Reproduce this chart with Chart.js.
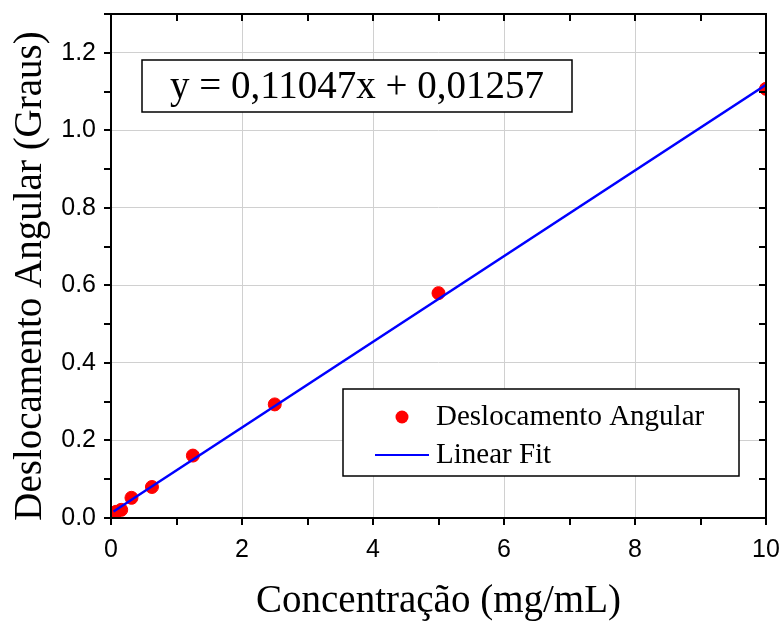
<!DOCTYPE html>
<html>
<head>
<meta charset="utf-8">
<script src="https://cdn.jsdelivr.net/npm/chart.js@4/dist/chart.umd.min.js"></script>
<style>
html, body { margin: 0; padding: 0; background: #fff; }
</style>
</head>
<body>
<canvas id="grafico" width="784" height="622"></canvas>
<script>
// dados
const concentracao = [0.039, 0.078, 0.156, 0.3125, 0.625, 1.25, 2.5, 5, 10];
const deslocamento = [0.012, 0.016, 0.021, 0.052, 0.080, 0.161, 0.293, 0.580, 1.107];
const ajusteX = [0.039, 10];
const ajusteY = [0.0169, 1.1173];
const equacao = 'y = 0,11047x + 0,01257';
const tituloY = 'Deslocamento Angular (Graus)';
const xTickLabels = [0, 2, 4, 6, 8, 10];
const yTickLabels = [0.0, 0.2, 0.4, 0.6, 0.8, 1.0, 1.2];

const serif = '"Liberation Serif", "Times New Roman", serif';
const sans = '"Liberation Sans", Arial, sans-serif';

const isMajorX = v => xTickLabels.some(t => Math.abs(t - v) < 1e-6);
const isMajorY = v => yTickLabels.some(t => Math.abs(t - v) < 1e-6);

// moldura, ticks, titulo y, caixa da equacao e legenda
const extras = {
    id: 'extras',
    afterDatasetsDraw(chart) {
        const ctx = chart.ctx;
        const a = chart.chartArea;
        const sx = chart.scales.x, sy = chart.scales.y;
        ctx.save();
        ctx.strokeStyle = '#000';
        ctx.lineWidth = 2;
        ctx.beginPath();
        for (let v = 0; v <= 10; v++) {
            const px = Math.round(sx.getPixelForValue(v));
            ctx.moveTo(px, a.bottom); ctx.lineTo(px, a.bottom + 7);
            ctx.moveTo(px, a.top); ctx.lineTo(px, a.top + 7);
        }
        for (let i = 0; i <= 13; i++) {
            const py = Math.round(sy.getPixelForValue(i / 10));
            ctx.moveTo(a.left - 7, py); ctx.lineTo(a.left, py);
            ctx.moveTo(a.right - 7, py); ctx.lineTo(a.right, py);
        }
        ctx.stroke();
        ctx.strokeRect(a.left, a.top, a.right - a.left, a.bottom - a.top);

        // titulo do eixo y
        ctx.save();
        ctx.translate(31, 276);
        ctx.rotate(-Math.PI / 2);
        ctx.fillStyle = '#000';
        ctx.font = '39px ' + serif;
        ctx.textAlign = 'center';
        ctx.textBaseline = 'middle';
        ctx.fillText(tituloY, 0, 0);
        ctx.restore();

        // caixa da equacao
        ctx.fillStyle = '#fff';
        ctx.lineWidth = 1.5;
        ctx.fillRect(142, 60, 430, 52);
        ctx.strokeRect(142, 60, 430, 52);
        ctx.fillStyle = '#000';
        ctx.font = '39px ' + serif;
        ctx.textAlign = 'center';
        ctx.textBaseline = 'middle';
        ctx.fillText(equacao, 357, 88);

        // legenda
        ctx.fillStyle = '#fff';
        ctx.fillRect(343, 389, 396, 87);
        ctx.strokeRect(343, 389, 396, 87);
        ctx.font = '29px ' + serif;
        ctx.textAlign = 'left';
        const ds = chart.data.datasets;
        ctx.fillStyle = 'rgb(255,0,0)';
        ctx.beginPath();
        ctx.arc(402, 417, 6.5, 0, Math.PI * 2);
        ctx.fill();
        ctx.fillStyle = '#000';
        ctx.fillText(ds[0].label, 436, 417);
        ctx.strokeStyle = 'rgb(0,0,255)';
        ctx.lineWidth = 2;
        ctx.beginPath();
        ctx.moveTo(375, 455); ctx.lineTo(429, 455);
        ctx.stroke();
        ctx.fillText(ds[1].label, 436, 455);
        ctx.restore();
    }
};

const semPadding = s => { s.paddingTop = 0; s.paddingBottom = 0; s.paddingLeft = 0; s.paddingRight = 0; };

let graficoCtx = document.getElementById('grafico').getContext('2d');
let parametros = {
    type: 'scatter',
    data: {
        datasets: [
            {
                label: 'Deslocamento Angular',
                data: concentracao.map((x, i) => ({ x: x, y: deslocamento[i] })),
                backgroundColor: 'rgb(255,0,0)',
                borderColor: 'rgb(255,0,0)',
                pointRadius: 6.5,
                clip: 0,
                order: 2
            },
            {
                label: 'Linear Fit',
                type: 'line',
                data: ajusteX.map((x, i) => ({ x: x, y: ajusteY[i] })),
                borderColor: 'rgb(0,0,255)',
                borderWidth: 2.5,
                pointRadius: 0,
                fill: false,
                clip: 0,
                order: 1
            }
        ]
    },
    options: {
        responsive: false,
        animation: false,
        layout: { padding: { top: 14, right: 18, left: 0, bottom: 0 } },
        plugins: { legend: { display: false }, tooltip: { enabled: false } },
        scales: {
            x: {
                type: 'linear',
                min: 0, max: 10,
                afterFit: s => { s.height = 104; semPadding(s); },
                border: { display: false },
                grid: {
                    drawTicks: false,
                    color: c => (c.tick && isMajorX(c.tick.value)) ? '#d0d0d0' : 'rgba(0,0,0,0)',
                    lineWidth: 1
                },
                ticks: {
                    stepSize: 1,
                    padding: 17,
                    color: '#000',
                    font: { family: sans, size: 25 },
                    maxRotation: 0,
                    autoSkip: false,
                    callback: v => isMajorX(v) ? String(v) : ''
                },
                title: {
                    display: true,
                    text: 'Concentração (mg/mL)',
                    color: '#000',
                    font: { family: serif, size: 39, lineHeight: 1.05 },
                    padding: { top: 0, bottom: 0 }
                }
            },
            y: {
                type: 'linear',
                min: 0, max: 1.3,
                afterFit: s => { s.width = 111; semPadding(s); },
                border: { display: false },
                grid: {
                    drawTicks: false,
                    color: c => (c.tick && isMajorY(c.tick.value)) ? '#d0d0d0' : 'rgba(0,0,0,0)',
                    lineWidth: 1
                },
                ticks: {
                    stepSize: 0.1,
                    padding: 15,
                    color: '#000',
                    font: { family: sans, size: 25 },
                    autoSkip: false,
                    callback: v => isMajorY(v) ? v.toFixed(1) : ''
                },
                title: { display: false }
            }
        }
    },
    plugins: [extras]
};
var grafico = new Chart(graficoCtx, parametros);
</script>
</body>
</html>
